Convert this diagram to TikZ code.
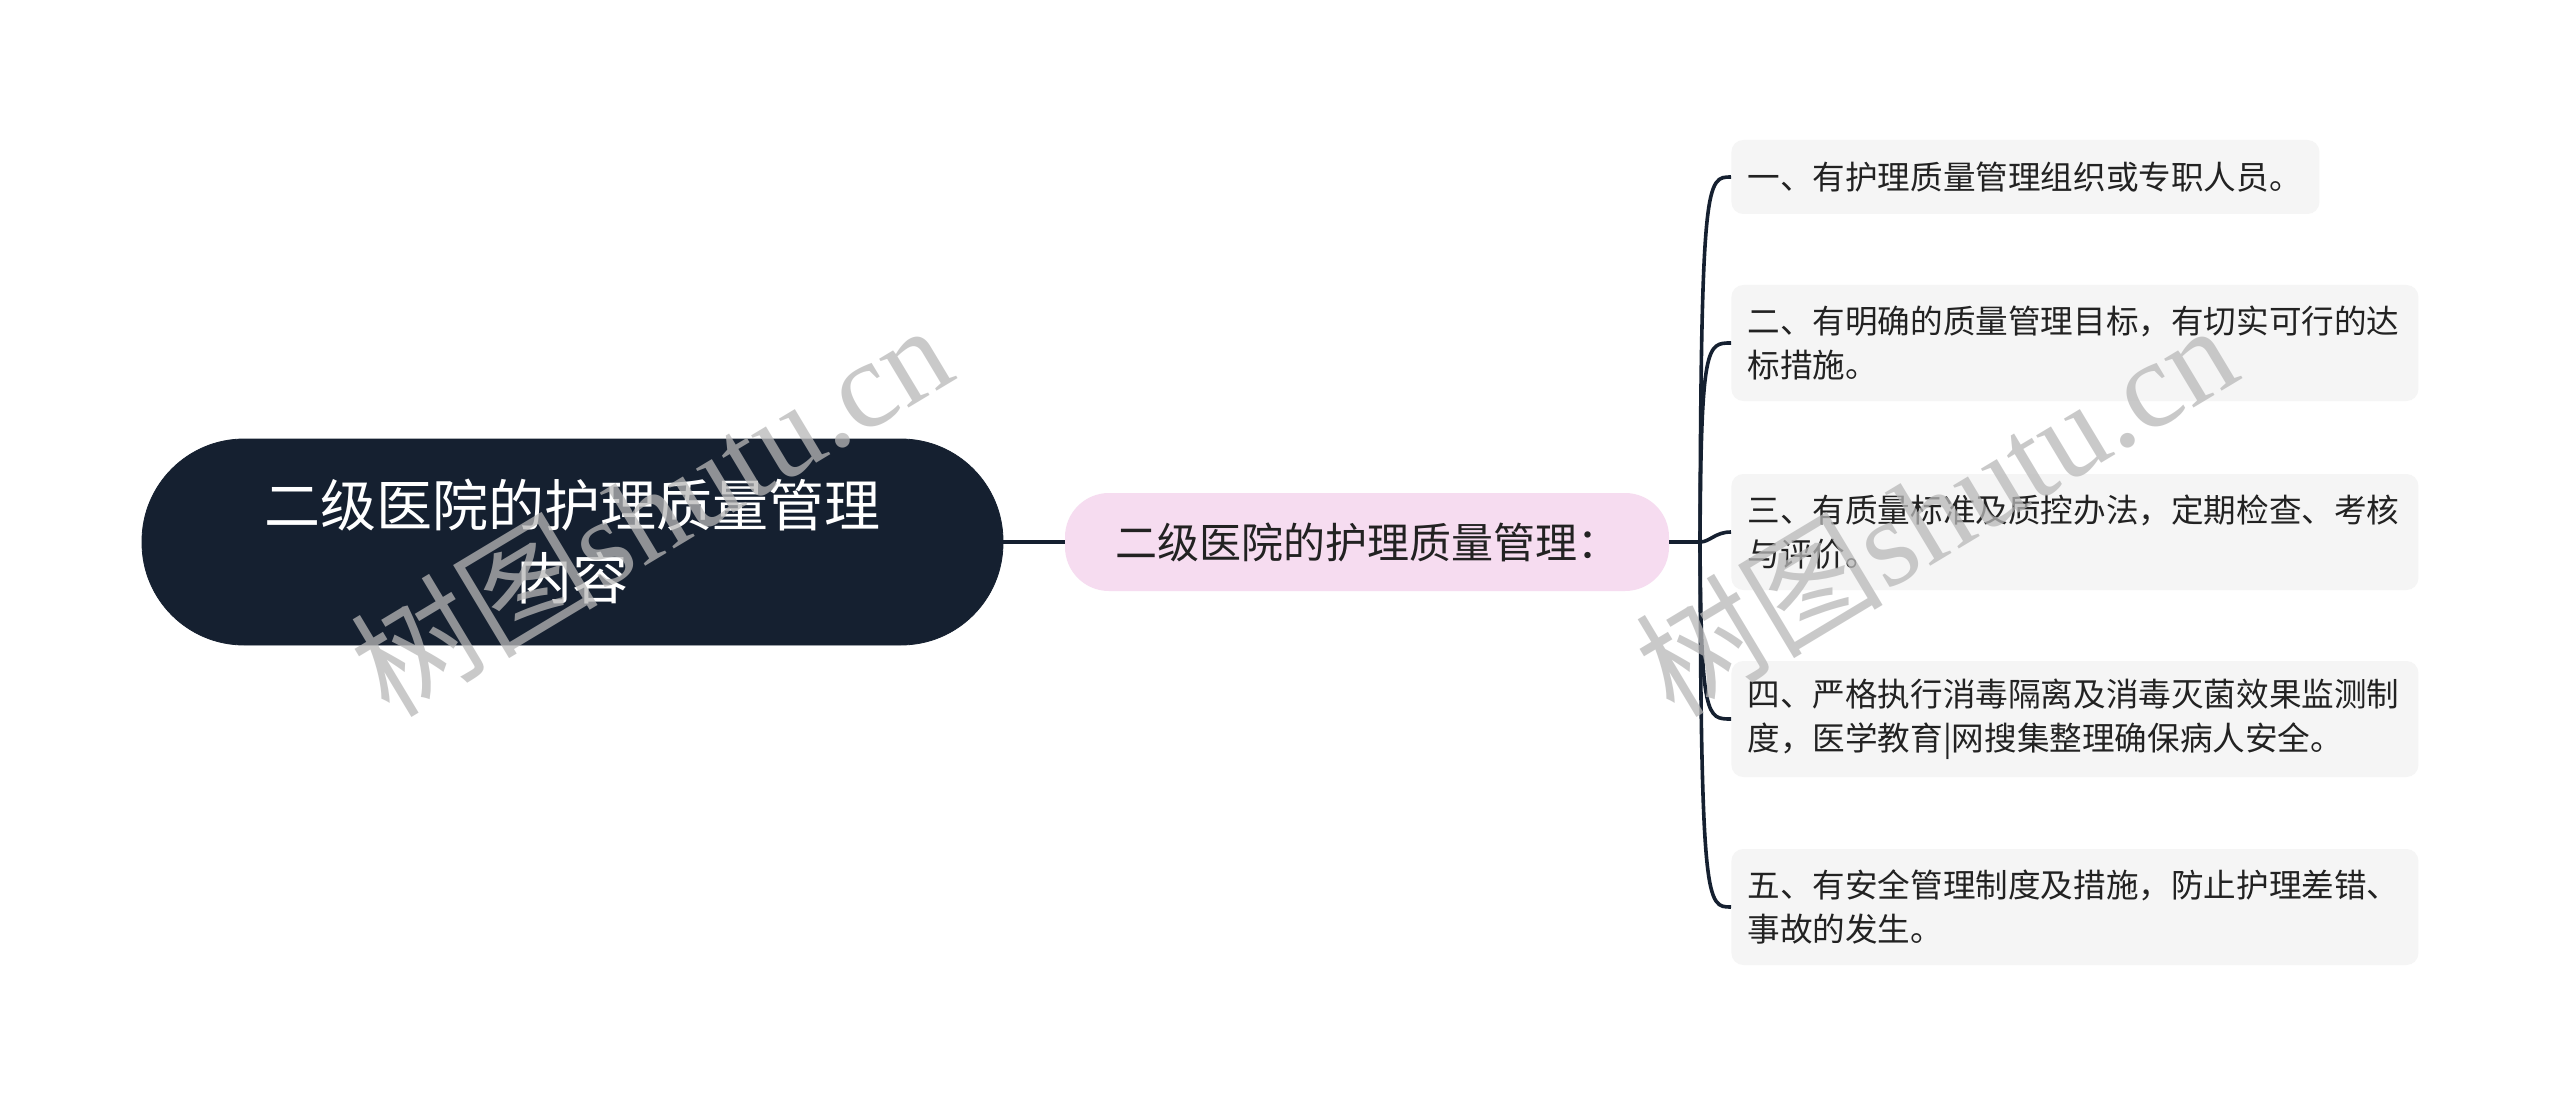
\documentclass[tikz,border=0pt]{standalone}
\usepackage{fontspec}
\setmainfont{Noto Sans CJK SC}
\newfontfamily\wmser{Liberation Serif}
\newfontfamily\wmcjk{Noto Sans CJK SC}
\definecolor{rootfill}{HTML}{152030}
\definecolor{midfill}{HTML}{F6DCF0}
\definecolor{leaffill}{HTML}{F5F5F5}
\definecolor{linec}{HTML}{152030}
\definecolor{txt}{HTML}{222222}
\definecolor{wm}{HTML}{B8B8B8}
\begin{document}
\begin{tikzpicture}[x=0.5pt,y=-0.5pt,
  rootbox/.style={fill=rootfill, draw=rootfill, rounded corners=51pt, minimum width=430.5pt, minimum height=103pt,
    text=white, align=center, font=\fontsize{28}{36.5}\selectfont, inner sep=0pt},
  midbox/.style={fill=midfill, rounded corners=22pt, minimum width=302pt, minimum height=49pt,
    text=txt, align=center, font=\fontsize{21}{26}\selectfont, inner sep=0pt},
  leafbox/.style={fill=leaffill, rounded corners=6pt, anchor=west, inner xsep=8pt, inner ysep=0pt,
    text=txt, align=left, font=\fontsize{16.3}{22}\selectfont, minimum height=58pt, text width=327.5pt},
  conn/.style={draw=linec, line width=1.8pt},
  wmark/.style={text=wm, opacity=0.75, rotate=31, inner sep=0pt}
]
\fill[white] (0,0) rectangle (2560,1107);
\useasboundingbox (0,0) rectangle (2560,1107);

\node[rootbox] (root) at (572.5,542) {二级医院的护理质量管理\\内容};
\node[midbox] (mid) at (1367,542) {二级医院的护理质量管理：};

\node[leafbox, minimum height=37pt, text width=278pt] (l1) at (1731,177) {一、有护理质量管理组织或专职人员。};
\node[leafbox] (l2) at (1731,343) {二、有明确的质量管理目标，有切实可行的达\\标措施。};
\node[leafbox] (l3) at (1731,532) {三、有质量标准及质控办法，定期检查、考核\\与评价。};
\node[leafbox] (l4) at (1731,719) {四、严格执行消毒隔离及消毒灭菌效果监测制\\度，医学教育|网搜集整理确保病人安全。};
\node[leafbox] (l5) at (1731,907) {五、有安全管理制度及措施，防止护理差错、\\事故的发生。};

\coordinate (J) at (1700,542);
\draw[conn] (root.east) -- (mid.west);
\draw[conn] (mid.east) -- (J);
\draw[conn] (J) .. controls (1701,177) and (1707,177) .. (l1.west);
\draw[conn] (J) .. controls (1701,343) and (1707,343) .. (l2.west);
\draw[conn] (J) .. controls (1710,542) and (1715,532) .. (l3.west);
\draw[conn] (J) .. controls (1701,719) and (1707,719) .. (l4.west);
\draw[conn] (J) .. controls (1701,907) and (1707,907) .. (l5.west);

\node[wmark] (wm1) at (650,508) {\fontsize{62}{62}\wmcjk 树图\wmser shutu.cn};
\node[wmark] (wm2) at (1935,508) {\fontsize{62}{62}\wmcjk 树图\wmser shutu.cn};
\end{tikzpicture}
\end{document}
